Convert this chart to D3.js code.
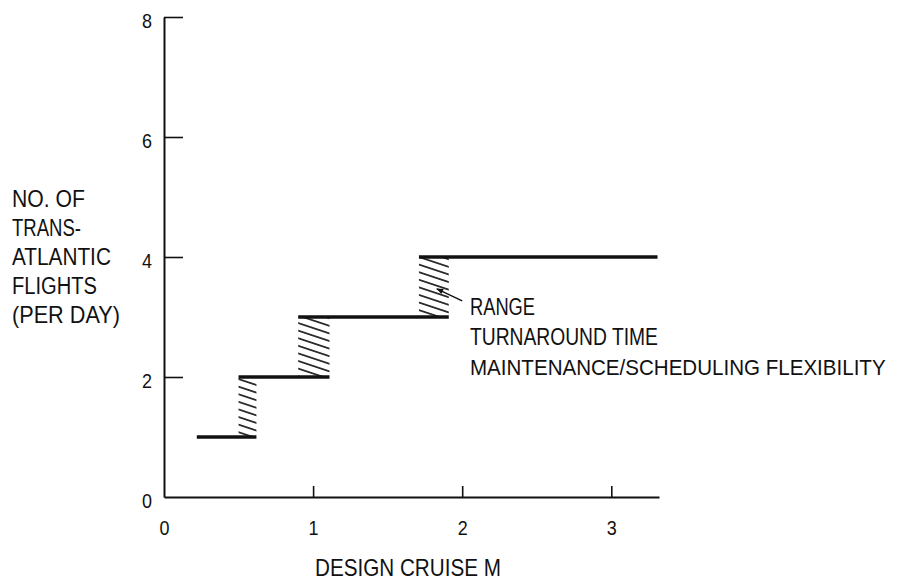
<!DOCTYPE html>
<html>
<head>
<meta charset="utf-8">
<script src="https://cdn.jsdelivr.net/npm/d3@7"></script>
<style>
  html, body { margin: 0; padding: 0; background: #fff; }
  svg { display: block; }
  text { font-family: "Liberation Sans", Arimo, "DejaVu Sans", sans-serif; fill: #111; }
</style>
</head>
<body>
<svg id="chart" width="898" height="583"></svg>
<script>
// ---- data ----
const levels = [1, 2, 3, 4];              // flights per day for each step
const stepStart = [0.22, 0.50, 0.90, 1.71]; // design cruise M where each step starts
const stepEnd = [0.62, 1.11, 1.91, 3.31];   // design cruise M where each step ends
const xTicks = [0, 1, 2, 3];
const yTicks = [0, 2, 4, 6, 8];
const yLabelLines = ["NO. OF", "TRANS-", "ATLANTIC", "FLIGHTS", "(PER DAY)"];
const xLabel = "DESIGN CRUISE M";
const noteLines = ["RANGE", "TURNAROUND TIME", "MAINTENANCE/SCHEDULING FLEXIBILITY"];
const arrowFrom = [2.00, 3.27];
const arrowTo = [1.83, 3.47];

// ---- layout (pixel widths of text lines as in the reference) ----
const yLabelWidths = [73, 69, 99, 85, 108];
const noteWidths = [65, 188, 416];
const xLabelWidth = 186;
const FS = 23;

const svg = d3.select("#chart");
const x = d3.scaleLinear().domain([0, 3.32]).range([164, 659]);
const y = d3.scaleLinear().domain([0, 8]).range([497, 17]);

// place a text at (px, py) and condense it horizontally to a target width
function placeFit(sel, px, py, w) {
  sel.each(function (d, i) {
    const nat = this.getComputedTextLength();
    const s = Math.min(1, w(d, i) / nat);
    d3.select(this).attr("x", 0).attr("y", 0)
      .attr("transform", `translate(${px(d, i)},${py(d, i)}) scale(${s},1)`);
  });
}

const defs = svg.append("defs");
defs.append("pattern")
  .attr("id", "hatch")
  .attr("patternUnits", "userSpaceOnUse")
  .attr("width", 12).attr("height", 7.2)
  .attr("patternTransform", "rotate(18.4)")
  .append("line")
  .attr("x1", 0).attr("y1", 3.6).attr("x2", 12).attr("y2", 3.6)
  .attr("stroke", "#111").attr("stroke-width", 1.6);

defs.append("marker")
  .attr("id", "arrow")
  .attr("viewBox", "0 0 10 10")
  .attr("refX", 9).attr("refY", 5)
  .attr("markerWidth", 7).attr("markerHeight", 5)
  .attr("orient", "auto")
  .append("path").attr("d", "M0,1 L10,5 L0,9 Z").attr("fill", "#111");

// hatched transition bands between consecutive steps
const bands = d3.range(levels.length - 1).map(i => ({
  x0: stepStart[i + 1], x1: stepEnd[i], y0: levels[i], y1: levels[i + 1]
}));
svg.append("g").selectAll("rect").data(bands).join("rect")
  .attr("x", d => x(d.x0))
  .attr("y", d => y(d.y1))
  .attr("width", d => x(d.x1) - x(d.x0))
  .attr("height", d => y(d.y0) - y(d.y1))
  .attr("fill", "url(#hatch)");

// axes
const xAxis = d3.axisBottom(x).tickValues(xTicks).tickFormat(d3.format("d"))
  .tickSizeInner(-11).tickSizeOuter(0).tickPadding(23);
const yAxis = d3.axisLeft(y).tickValues(yTicks).tickFormat(d3.format("d"))
  .tickSizeInner(-19).tickSizeOuter(0).tickPadding(12);

const gx = svg.append("g").attr("transform", `translate(0,${y(0)})`).call(xAxis);
const gy = svg.append("g").attr("transform", `translate(${x(0)},0)`).call(yAxis);
[gx, gy].forEach(g => {
  g.select(".domain").attr("stroke", "#111").attr("stroke-width", 2);
  g.selectAll(".tick line").attr("stroke", "#111").attr("stroke-width", 1.6);
  g.selectAll(".tick text").attr("font-size", 21).attr("font-family", null).attr("fill", "#111")
    .attr("textLength", 10).attr("lengthAdjust", "spacingAndGlyphs");
});
gy.selectAll(".tick text").attr("dy", "0.5em");
gx.selectAll(".tick").filter(d => d === 0).select("line").remove();
gy.selectAll(".tick").filter(d => d === 0).select("line").remove();

// step lines
svg.append("g").selectAll("line").data(levels).join("line")
  .attr("x1", (d, i) => x(stepStart[i]))
  .attr("x2", (d, i) => x(stepEnd[i]))
  .attr("y1", d => y(d)).attr("y2", d => y(d))
  .attr("stroke", "#111").attr("stroke-width", 3.5);

// y axis title (multi-line, centred on the axis middle)
svg.append("g").selectAll("text").data(yLabelLines).join("text")
  .attr("font-size", FS)
  .text(d => d)
  .call(placeFit, () => 12, (d, i) => 265 + (i - 2) * 29, (d, i) => yLabelWidths[i]);

// x axis title
svg.append("g").selectAll("text").data([xLabel]).join("text")
  .attr("font-size", FS)
  .text(d => d)
  .call(placeFit, () => 315, () => 576, () => xLabelWidth);

// annotation
svg.append("g").selectAll("text").data(noteLines).join("text")
  .attr("font-size", FS)
  .text(d => d)
  .call(placeFit, () => 470, (d, i) => 315 + i * 30, (d, i) => noteWidths[i]);

svg.append("line")
  .attr("x1", x(arrowFrom[0])).attr("y1", y(arrowFrom[1]))
  .attr("x2", x(arrowTo[0])).attr("y2", y(arrowTo[1]))
  .attr("stroke", "#111").attr("stroke-width", 1.4)
  .attr("marker-end", "url(#arrow)");
</script>
</body>
</html>
